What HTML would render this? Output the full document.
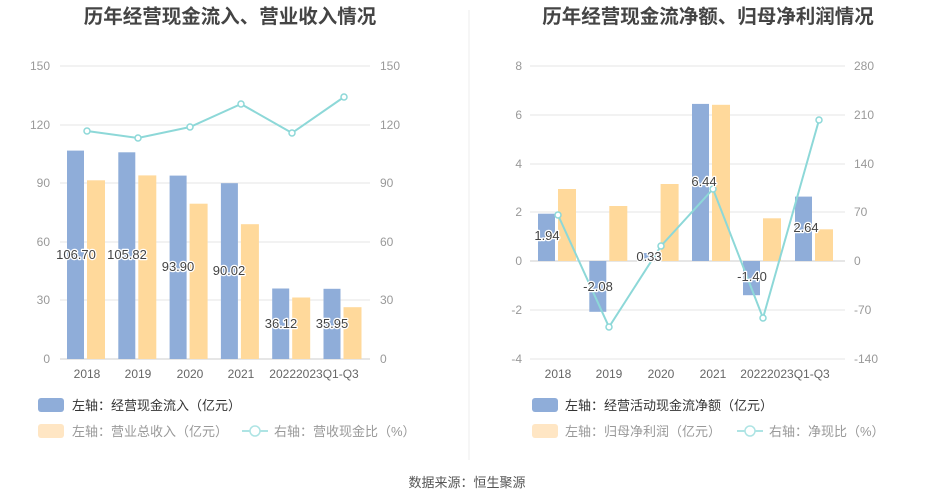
<!DOCTYPE html><html><head><meta charset="utf-8"><style>body{margin:0;background:#fff}svg{display:block;font-family:"Liberation Sans","Noto Sans CJK SC",sans-serif}.lb{stroke:#fff;stroke-width:2.5;paint-order:stroke;stroke-linejoin:round}</style></head><body>
<svg width="935" height="504" xmlns="http://www.w3.org/2000/svg">
<rect width="935" height="504" fill="#fff"/>
<line x1="469" y1="10" x2="469" y2="460" stroke="#eee"/>
<text x="230" y="23" font-size="19.5" font-weight="bold" text-anchor="middle" fill="#444">历年经营现金流入、营业收入情况</text>
<text x="708" y="23" font-size="19.5" font-weight="bold" text-anchor="middle" fill="#444">历年经营现金流净额、归母净利润情况</text>
<g stroke="#e6e6e6"><line x1="60" x2="370" y1="66" y2="66"/><line x1="60" x2="370" y1="125" y2="125"/><line x1="60" x2="370" y1="183" y2="183"/><line x1="60" x2="370" y1="242" y2="242"/><line x1="60" x2="370" y1="300" y2="300"/></g>
<line x1="60" x2="370" y1="359" y2="359" stroke="#ccc"/>
<g font-size="12" fill="#999" text-anchor="end"><text x="50" y="70">150</text><text x="50" y="129">120</text><text x="50" y="187">90</text><text x="50" y="246">60</text><text x="50" y="304">30</text><text x="50" y="363">0</text></g>
<g font-size="12" fill="#999"><text x="380" y="70">150</text><text x="380" y="129">120</text><text x="380" y="187">90</text><text x="380" y="246">60</text><text x="380" y="304">30</text><text x="380" y="363">0</text></g>
<g fill="#8fadd9"><rect x="67" y="150.6" width="17" height="208.4"/><rect x="118.3" y="152.3" width="17" height="206.7"/><rect x="169.6" y="175.6" width="17" height="183.4"/><rect x="220.9" y="183.2" width="17" height="175.8"/><rect x="272.2" y="288.5" width="17" height="70.5"/><rect x="323.5" y="288.8" width="17" height="70.2"/></g>
<g fill="#ffd99b"><rect x="87" y="180.3" width="18" height="178.7"/><rect x="138.3" y="175.4" width="18" height="183.6"/><rect x="189.6" y="203.7" width="18" height="155.3"/><rect x="240.9" y="224.2" width="18" height="134.8"/><rect x="292.2" y="297.5" width="18" height="61.5"/><rect x="343.5" y="307.2" width="18" height="51.8"/></g>
<g font-size="13" fill="#444" text-anchor="middle" class="lb"><text x="76" y="259">106.70</text><text x="127" y="259">105.82</text><text x="178" y="271">93.90</text><text x="229" y="275">90.02</text><text x="281" y="328">36.12</text><text x="332" y="328">35.95</text></g>
<polyline points="87,131 138,138 190,127 241,104 292,133 344,97" fill="none" stroke="#8dd8d8" stroke-width="2"/>
<g fill="#fff" stroke="#8dd8d8" stroke-width="1.5"><circle cx="87" cy="131" r="3"/><circle cx="138" cy="138" r="3"/><circle cx="190" cy="127" r="3"/><circle cx="241" cy="104" r="3"/><circle cx="292" cy="133" r="3"/><circle cx="344" cy="97" r="3"/></g>
<g font-size="12" fill="#666" text-anchor="middle"><text x="87" y="378">2018</text><text x="138" y="378">2019</text><text x="190" y="378">2020</text><text x="241" y="378">2021</text><text x="314" y="378">20222023Q1-Q3</text></g>
<g stroke="#e6e6e6"><line x1="530" x2="845" y1="66" y2="66"/><line x1="530" x2="845" y1="115" y2="115"/><line x1="530" x2="845" y1="164" y2="164"/><line x1="530" x2="845" y1="212" y2="212"/><line x1="530" x2="845" y1="310" y2="310"/><line x1="530" x2="845" y1="359" y2="359"/></g>
<line x1="530" x2="845" y1="261" y2="261" stroke="#ccc"/>
<g font-size="12" fill="#999" text-anchor="end"><text x="522" y="70">8</text><text x="522" y="119">6</text><text x="522" y="168">4</text><text x="522" y="216">2</text><text x="522" y="265">0</text><text x="522" y="314">-2</text><text x="522" y="363">-4</text></g>
<g font-size="12" fill="#999"><text x="854" y="70">280</text><text x="854" y="119">210</text><text x="854" y="168">140</text><text x="854" y="216">70</text><text x="854" y="265">0</text><text x="854" y="314">-70</text><text x="854" y="363">-140</text></g>
<g fill="#8fadd9"><rect x="538" y="213.7" width="17" height="47.3"/><rect x="589.3" y="261" width="17" height="50.8"/><rect x="640.6" y="253" width="17" height="8"/><rect x="692" y="103.9" width="17" height="157.1"/><rect x="743" y="261" width="17" height="34.2"/><rect x="795" y="196.6" width="17" height="64.4"/></g>
<g fill="#ffd99b"><rect x="558" y="189" width="18" height="72"/><rect x="609.3" y="206" width="18" height="55"/><rect x="660.6" y="184" width="18" height="77"/><rect x="712" y="104.8" width="18" height="156.2"/><rect x="763" y="218.3" width="18" height="42.7"/><rect x="815" y="229.3" width="18" height="31.7"/></g>
<polyline points="558,215 609,327 661,246 713,189 763,318 819,120" fill="none" stroke="#8dd8d8" stroke-width="2"/>
<g fill="#fff" stroke="#8dd8d8" stroke-width="1.5"><circle cx="558" cy="215" r="3"/><circle cx="609" cy="327" r="3"/><circle cx="661" cy="246" r="3"/><circle cx="713" cy="189" r="3"/><circle cx="763" cy="318" r="3"/><circle cx="819" cy="120" r="3"/></g>
<g font-size="13" fill="#444" text-anchor="middle" class="lb"><text x="547" y="240">1.94</text><text x="598" y="291">-2.08</text><text x="649" y="261">0.33</text><text x="704" y="186">6.44</text><text x="752" y="281">-1.40</text><text x="806" y="232">2.64</text></g>
<g font-size="12" fill="#666" text-anchor="middle"><text x="558" y="378">2018</text><text x="609" y="378">2019</text><text x="661" y="378">2020</text><text x="713" y="378">2021</text><text x="785" y="378">20222023Q1-Q3</text></g>
<rect x="38" y="398" width="26" height="14" rx="3" fill="#8fadd9"/>
<text x="72" y="410" font-size="13" fill="#333">左轴：经营现金流入（亿元）</text>
<rect x="38" y="424" width="26" height="14" rx="3" fill="#ffe6c4"/>
<text x="72" y="436" font-size="13" fill="#999">左轴：营业总收入（亿元）</text>
<line x1="242" x2="268" y1="431" y2="431" stroke="#aee4e4" stroke-width="2"/><circle cx="255" cy="431" r="5" fill="#fff" stroke="#aee4e4" stroke-width="1.5"/>
<text x="274" y="436" font-size="13" fill="#999">右轴：营收现金比（%）</text>
<rect x="532" y="398" width="26" height="14" rx="3" fill="#8fadd9"/>
<text x="565" y="410" font-size="13" fill="#333">左轴：经营活动现金流净额（亿元）</text>
<rect x="532" y="424" width="26" height="14" rx="3" fill="#ffe6c4"/>
<text x="565" y="436" font-size="13" fill="#999">左轴：归母净利润（亿元）</text>
<line x1="737" x2="763" y1="431" y2="431" stroke="#aee4e4" stroke-width="2"/><circle cx="750" cy="431" r="5" fill="#fff" stroke="#aee4e4" stroke-width="1.5"/>
<text x="769" y="436" font-size="13" fill="#999">右轴：净现比（%）</text>
<text x="467" y="487" font-size="13" fill="#555" text-anchor="middle">数据来源：恒生聚源</text>
</svg></body></html>
